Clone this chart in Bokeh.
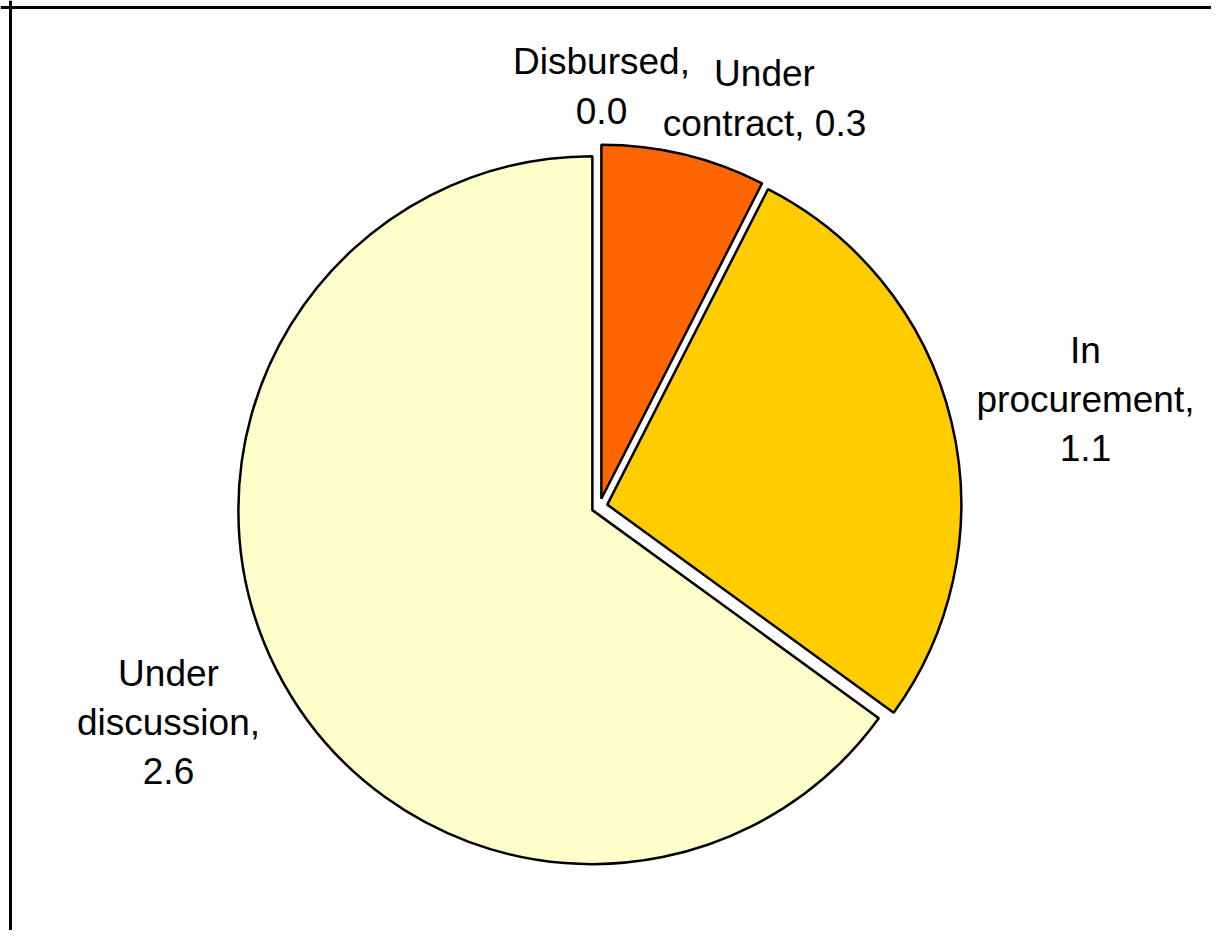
import math
from bokeh.plotting import figure
from bokeh.models import ColumnDataSource, Range1d, Span
from bokeh.core.properties import value
from bokeh.embed import file_html
from bokeh.resources import INLINE

# ---- data ----
categories = ["Disbursed", "Under contract", "In procurement", "Under discussion"]
values = [0.0, 0.3, 1.1, 2.6]
colors = ["#FF6600", "#FF6600", "#FFCC00", "#FFFFCC"]
labels = ["Disbursed,\n0.0", "Under\ncontract, 0.3", "In\nprocurement,\n1.1", "Under\ndiscussion,\n2.6"]

# ---- layout (pixel coordinates within the figure) ----
W, H = 1211, 930
cx_px, cy_px = 599, 506
radius = 354
explode = 8
label_x_px = [601, 764, 1085, 168]
label_y_px = [86, 98, 399, 722]


def to_y(py):
    return H - py


total = sum(values)
starts, ends, xs, ys, cols, cats = [], [], [], [], [], []
cum = 0.0
for v, c, cat in zip(values, colors, categories):
    a0 = math.pi / 2 - 2 * math.pi * cum / total
    cum += v
    a1 = math.pi / 2 - 2 * math.pi * cum / total
    if v <= 0:
        continue
    mid = (a0 + a1) / 2
    xs.append(cx_px + explode * math.cos(mid))
    ys.append(to_y(cy_px) + explode * math.sin(mid))
    starts.append(a1)
    ends.append(a0)
    cols.append(c)
    cats.append(cat)

src = ColumnDataSource(dict(x=xs, y=ys, start=starts, end=ends, color=cols, cat=cats))
lsrc = ColumnDataSource(dict(x=label_x_px, y=[to_y(v) for v in label_y_px], text=labels))

p = figure(width=W, height=H, output_backend="svg", toolbar_location=None,
           x_range=Range1d(0, W), y_range=Range1d(0, H), min_border=0)
p.axis.visible = False
p.grid.visible = False
p.outline_line_color = None
p.background_fill_color = "white"
p.border_fill_color = "white"

p.wedge(x="x", y="y", radius=radius, start_angle="start", end_angle="end",
        fill_color="color", line_color="black", line_width=2.5, source=src)

p.text(x="x", y="y", text="text", source=lsrc, text_align="center", text_baseline="middle",
       text_font=value("Liberation Sans"), text_font_size="37px", text_color="black",
       text_line_height=1.2)

p.add_layout(Span(location=10, dimension="height", line_color="black", line_width=3))
p.add_layout(Span(location=to_y(7), dimension="width", line_color="black", line_width=3))

open("out.html", "w").write(file_html(p, INLINE))
